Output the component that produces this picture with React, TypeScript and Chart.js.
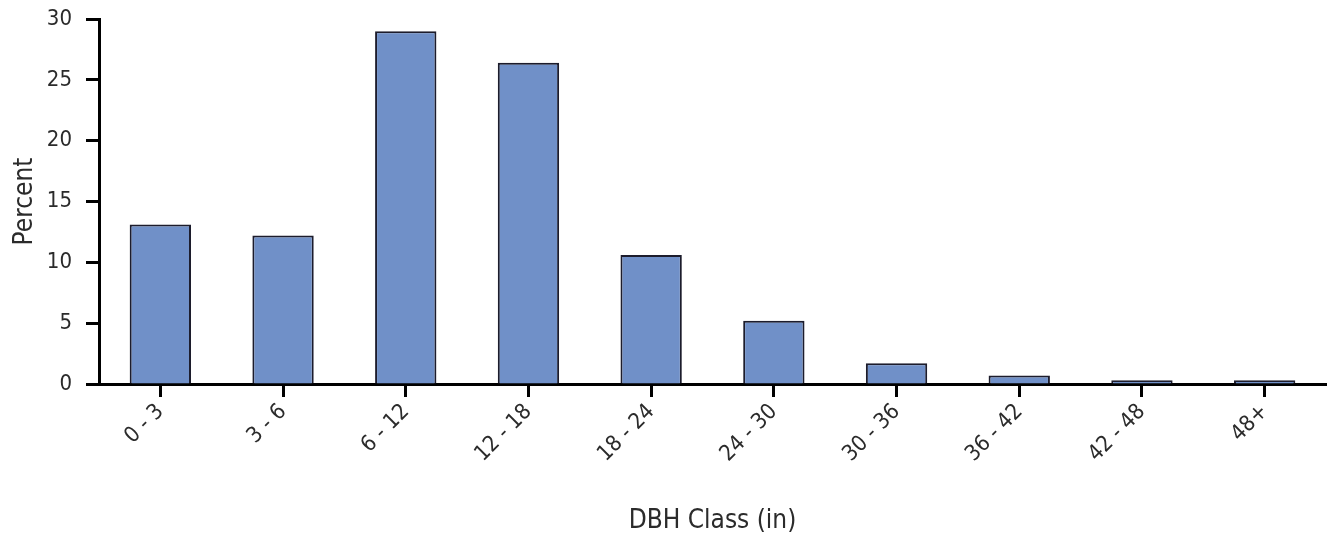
import React, { useEffect, useRef } from "react";
import { Chart, registerables } from "chart.js";

Chart.register(...registerables);

const categories = ["0 - 3", "3 - 6", "6 - 12", "12 - 18", "18 - 24", "24 - 30", "30 - 36", "36 - 42", "42 - 48", "48+"];
const percentValues = [13.1, 12.2, 29.0, 26.4, 10.6, 5.2, 1.7, 0.7, 0.3, 0.3];
const yTicks = [0, 5, 10, 15, 20, 25, 30];
const xTitle = "DBH Class (in)";
const yTitle = "Percent";

const FONT = "'Liberation Sans Narrow', 'DejaVu Sans Condensed', Roboto, sans-serif";
const TEXT = "#2b2b2b";

export default function App() {
  const ref = useRef<HTMLCanvasElement | null>(null);

  useEffect(() => {
    const prevMargin = document.body.style.margin;
    document.body.style.margin = "0";
    const canvas = ref.current;
    if (!canvas) return;

    const xTitlePlugin = {
      id: "xTitlePlugin",
      afterDraw(chart: any) {
        const { ctx, chartArea } = chart;
        ctx.save();
        ctx.fillStyle = TEXT;
        ctx.font = `26px ${FONT}`;
        ctx.textAlign = "center";
        ctx.textBaseline = "middle";
        ctx.fillText(xTitle, (chartArea.left + chartArea.right) / 2, 521);
        ctx.restore();
      },
    };

    const chart = new Chart(canvas, {
      type: "bar",
      data: {
        labels: categories,
        datasets: [
          {
            label: yTitle,
            data: percentValues,
            backgroundColor: "#7090c8",
            borderColor: "#1c1c2c",
            borderWidth: 2,
            borderSkipped: "bottom",
            barPercentage: 0.5,
            categoryPercentage: 1.0,
          },
        ],
      },
      options: {
        responsive: false,
        animation: false,
        layout: { padding: { top: 19, right: 12, left: 0, bottom: 0 } },
        plugins: {
          legend: { display: false },
          tooltip: { enabled: false },
        },
        scales: {
          x: {
            grid: {
              drawOnChartArea: false,
              drawTicks: true,
              tickLength: 13,
              tickColor: "#000000",
              tickWidth: 3,
              offset: false,
            },
            border: { color: "#000000", width: 3 },
            ticks: {
              color: TEXT,
              font: { family: FONT, size: 22 },
              maxRotation: 45,
              minRotation: 45,
              padding: 2,
              autoSkip: false,
            },
            afterFit(scale: any) {
              scale.height = 153;
            },
          },
          y: {
            min: 0,
            max: 30,
            afterBuildTicks(scale: any) {
              scale.ticks = yTicks.map((v) => ({ value: v }));
            },
            grid: {
              drawOnChartArea: false,
              drawTicks: true,
              tickLength: 13,
              tickColor: "#000000",
              tickWidth: 3,
            },
            border: { color: "#000000", width: 3 },
            ticks: {
              color: TEXT,
              font: { family: FONT, size: 22 },
              padding: 14,
            },
            title: {
              display: true,
              text: yTitle,
              color: TEXT,
              font: { family: FONT, size: 26 },
              padding: { top: 10, bottom: 0 },
            },
            afterFit(scale: any) {
              scale.width = 99;
              scale.paddingTop = 0;
              scale.paddingBottom = 0;
            },
          },
        },
      },
      plugins: [xTitlePlugin],
    });

    return () => {
      chart.destroy();
      document.body.style.margin = prevMargin;
    };
  }, []);

  return (
    <div style={{ width: 1338, height: 537, background: "#ffffff" }}>
      <canvas ref={ref} width={1338} height={537} style={{ display: "block" }} />
    </div>
  );
}
